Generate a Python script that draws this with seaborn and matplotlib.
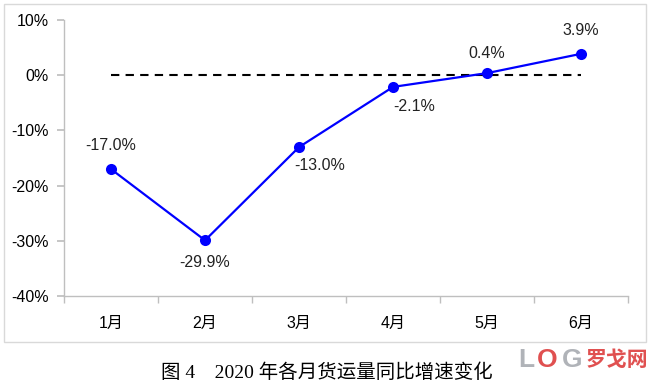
import matplotlib
matplotlib.use("Agg")
import matplotlib.pyplot as plt
import matplotlib.patches as mpatches
from matplotlib.ticker import FuncFormatter
import pandas as pd
import seaborn as sns

months = ["1月", "2月", "3月", "4月", "5月", "6月"]
growth = [-17.0, -29.9, -13.0, -2.1, 0.4, 3.9]
# label offsets (points) relative to each marker
label_dx = [0, 0, 15, 15, 0, 0]
label_dy = [17, -16, -13, -14, 14, 17]
y_ticks = [10, 0, -10, -20, -30, -40]
caption = "图 4    2020 年各月货运量同比增速变化"

sns.set_theme(style="white")
plt.rcParams['font.family'] = ['Liberation Sans', 'Noto Sans CJK SC']

df = pd.DataFrame({"month": months, "growth": growth})

fig = plt.figure(figsize=(6.53, 3.87), dpi=100, facecolor='w')
# outer chart frame
fig.patches.append(mpatches.Rectangle((0.006, 0.116), 0.983, 0.874, transform=fig.transFigure,
                                      fill=False, edgecolor='#d9d9d9', linewidth=1))
ax = fig.add_axes([0.098, 0.235, 0.864, 0.713])

# zero reference line between first and last month
ax.plot([0, len(months) - 1], [0, 0], color='black', linestyle=(0, (4, 3)), linewidth=1.5, zorder=1)

sns.lineplot(data=df, x="month", y="growth", ax=ax, color='#0000ff', linewidth=1.6,
             marker='o', markersize=8, markeredgewidth=0, sort=False, zorder=3)

for i, v in enumerate(growth):
    ax.annotate(f"{v:.1f}%", (i, v), xytext=(label_dx[i], label_dy[i]), textcoords='offset points',
                ha='center', va='center', fontsize=11.5, color='#222222')

ax.set_xlim(-0.5, len(months) - 0.5)
ax.set_ylim(-40, 10)
ax.set_yticks(y_ticks)
ax.yaxis.set_major_formatter(FuncFormatter(lambda v, p: f"{v:.0f}%"))
ax.set_xticks(range(len(months)))
ax.set_xticklabels(months)
ax.set_xticks([i - 0.5 for i in range(len(months) + 1)], minor=True)
ax.set_xlabel('')
ax.set_ylabel('')

for s in ['top', 'right']:
    ax.spines[s].set_visible(False)
for s in ['left', 'bottom']:
    ax.spines[s].set_color('#bfbfbf')
    ax.spines[s].set_linewidth(1)

ax.tick_params(axis='y', which='major', direction='out', length=5, color='#bfbfbf',
               labelsize=11.5, labelcolor='black', left=True, pad=6)
ax.tick_params(axis='x', which='major', length=0, labelsize=11.5, labelcolor='black', pad=14)
ax.tick_params(axis='x', which='minor', direction='out', length=5, color='#bfbfbf', bottom=True)

fig.text(0.5, 0.038, caption, ha='center', va='center', fontsize=14,
         family=['Liberation Serif', 'Noto Sans CJK SC'], color='black')

# watermark
fig.text(0.793, 0.07, "L", ha='left', va='center', fontsize=19, fontweight='bold', color='#b0b3b8')
fig.text(0.822, 0.07, "O", ha='left', va='center', fontsize=19, fontweight='bold', color='#e05050')
fig.text(0.860, 0.07, "G", ha='left', va='center', fontsize=19, fontweight='bold', color='#b0b3b8')
fig.text(0.897, 0.07, "罗戈网", ha='left', va='center', fontsize=15, fontweight='bold',
         family=['Noto Sans CJK SC'], color='#e05050')

fig.savefig("out.png", dpi=100, facecolor='w')
